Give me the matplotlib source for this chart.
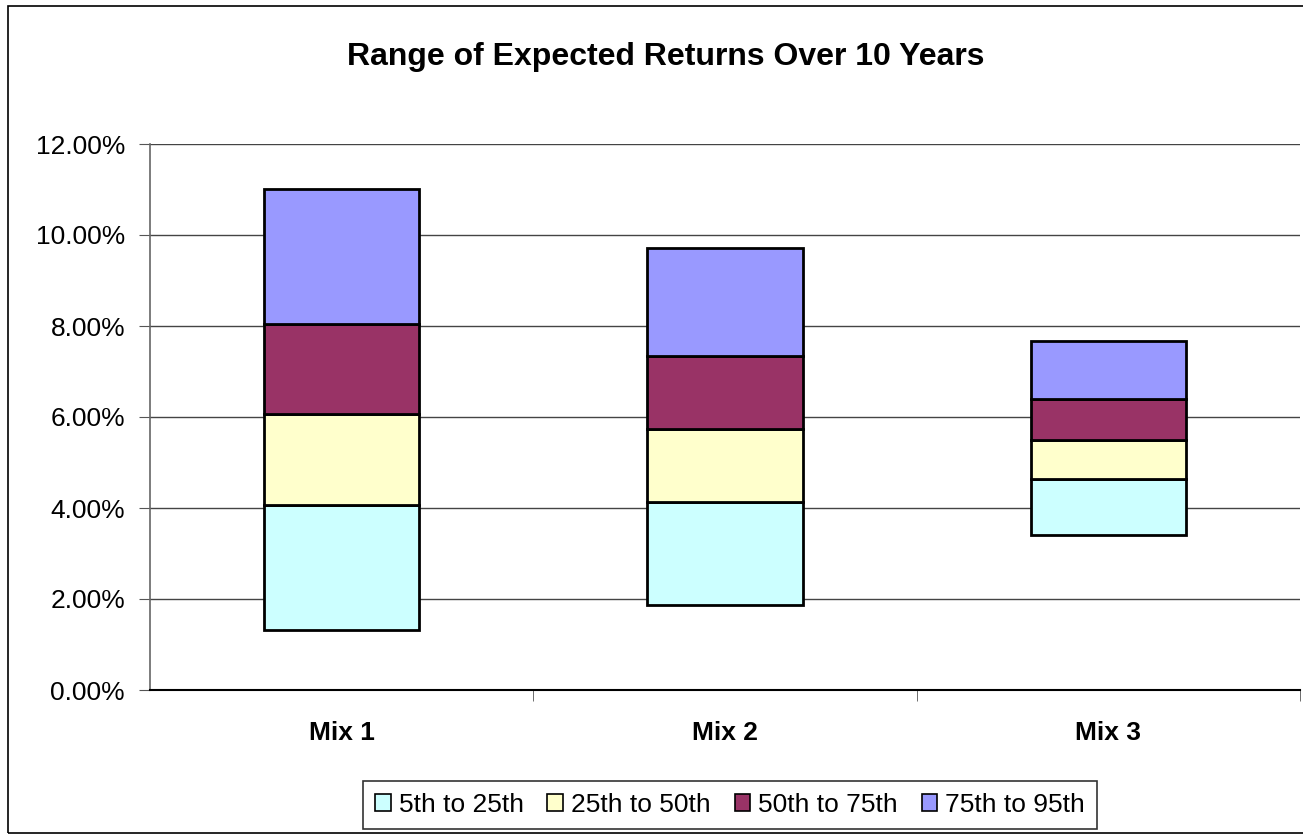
import matplotlib.pyplot as plt
from matplotlib.patches import Rectangle
from matplotlib.ticker import FuncFormatter

plt.rcParams['font.family'] = ['Liberation Sans', 'DejaVu Sans']

mixes = ['Mix 1', 'Mix 2', 'Mix 3']
labels = ['5th to 25th', '25th to 50th', '50th to 75th', '75th to 95th']
colors = ['#CCFFFF', '#FFFFCC', '#993366', '#9999FF']
# percentile values in %: 5th, 25th, 50th, 75th, 95th
p5 = [1.32, 1.87, 3.41]
p25 = [4.07, 4.13, 4.64]
p50 = [6.07, 5.73, 5.49]
p75 = [8.05, 7.35, 6.40]
p95 = [11.0, 9.72, 7.67]

levels = [p5, p25, p50, p75, p95]

fig = plt.figure(figsize=(13.03, 8.35), dpi=100)
fig.patches.append(Rectangle((8 / 1303, 0.002), 1.0, 1 - 0.002 - 6 / 835, transform=fig.transFigure,
                             fill=False, edgecolor='black', linewidth=1.2))
ax = fig.add_axes([150 / 1303, 1 - 690 / 835, 1150 / 1303, (690 - 144) / 835])

x = range(len(mixes))
for i in range(4):
    bottom = levels[i]
    height = [levels[i + 1][j] - levels[i][j] for j in range(len(mixes))]
    ax.bar(x, height, bottom=bottom, width=0.405, color=colors[i],
           edgecolor='black', linewidth=2, label=labels[i], zorder=3)

ax.set_xlim(-0.5, 2.5)
ax.set_ylim(0, 12)
ax.set_yticks([0, 2, 4, 6, 8, 10, 12])
ax.yaxis.set_major_formatter(FuncFormatter(lambda v, p: '%.2f%%' % v))
ax.grid(axis='y', color='#444444', linewidth=1, zorder=0)
ax.set_xticks(list(x))
ax.set_xticklabels(mixes, fontweight='bold', fontsize=19)
ax.tick_params(axis='x', length=0, pad=22)
ax.set_xticks([0.5, 1.5, 2.5], minor=True)
ax.tick_params(axis='x', which='minor', length=8, color='#555555')
ax.tick_params(axis='y', labelsize=19, length=8, color='#555555', pad=10)
for s in ['top', 'right']:
    ax.spines[s].set_visible(False)
ax.spines['left'].set_color('#666666')
ax.spines['left'].set_linewidth(1.2)
ax.spines['bottom'].set_color('black')
ax.spines['bottom'].set_linewidth(1.5)

fig.text(666 / 1303, 1 - 57 / 835, 'Range of Expected Returns Over 10 Years', fontsize=23,
         fontweight='bold', ha='center', va='center')

leg = ax.legend(loc='center', bbox_to_anchor=(730 / 1303, 1 - 805 / 835), bbox_transform=fig.transFigure,
                ncol=4, fontsize=19, frameon=True, fancybox=False, handlelength=0.6, handleheight=0.6,
                handletextpad=0.3, columnspacing=0.9, borderpad=0.45, borderaxespad=0)
leg.get_frame().set_edgecolor('black')
leg.get_frame().set_linewidth(1.2)
for h in leg.legend_handles:
    h.set_linewidth(1.2)

fig.savefig('out.png', dpi=100)
